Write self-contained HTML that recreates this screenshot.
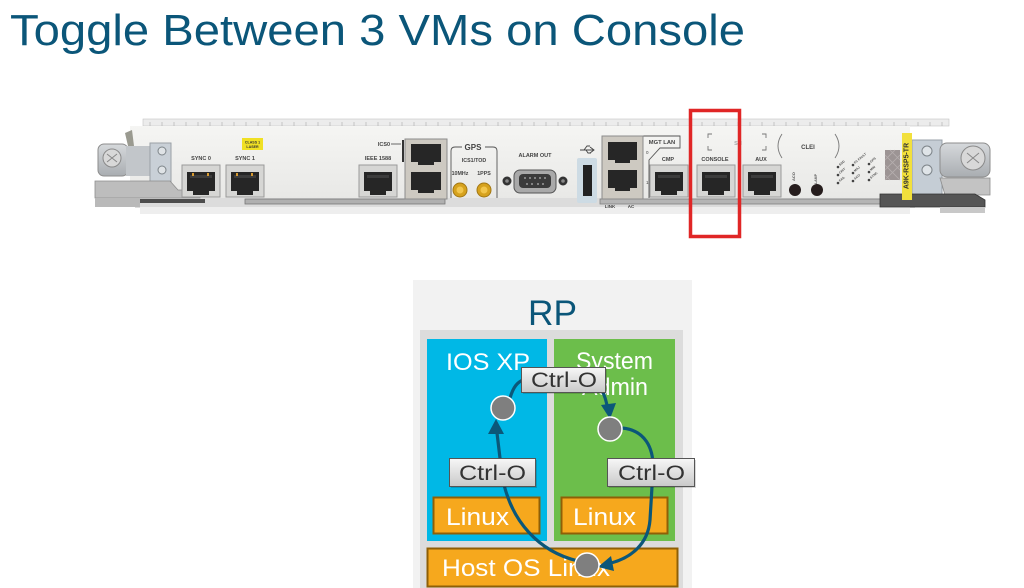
<!DOCTYPE html>
<html><head><meta charset="utf-8"><style>
html,body{margin:0;padding:0;background:#fff;}
svg{display:block;}
text{font-family:"Liberation Sans",sans-serif;}
</style></head><body>
<svg width="1024" height="588" viewBox="0 0 1024 588" xmlns="http://www.w3.org/2000/svg">
<defs>
<linearGradient id="face" x1="0" y1="0" x2="0" y2="1"><stop offset="0" stop-color="#f5f5f3"/><stop offset="1" stop-color="#e8e8e6"/></linearGradient>
<linearGradient id="metal" x1="0" y1="0" x2="0" y2="1"><stop offset="0" stop-color="#d6d9dc"/><stop offset="1" stop-color="#a9adb1"/></linearGradient>
<linearGradient id="btn" x1="0" y1="0" x2="0" y2="1"><stop offset="0" stop-color="#f7f7f7"/><stop offset="1" stop-color="#c9c9c9"/></linearGradient>
<g id="rj">
<rect x="0" y="0" width="38" height="32" fill="#d6d6d4" stroke="#9a9a9a" stroke-width="1"/>
<rect x="5" y="7" width="28" height="19" fill="#262626"/>
<rect x="11" y="24" width="16" height="6" fill="#262626"/>
<rect x="8" y="10" width="22" height="3" fill="#3c3c3c"/>
</g>
</defs>

<!-- Title -->
<text x="10" y="45" font-size="44" fill="#0b5679" textLength="735" lengthAdjust="spacingAndGlyphs">Toggle Between 3 VMs on Console</text>

<!-- ===== Card ===== -->
<!-- top rail -->
<rect x="143" y="119" width="806" height="7" fill="#ececec" stroke="#c4c4c4" stroke-width="0.6"/>
<g stroke="#ababab" stroke-width="0.6">
<path d="M150 122v4M162 122v4M174 122v4M186 122v4M198 122v4M210 122v4M222 122v4M234 122v4M246 122v4M258 122v4M270 122v4M282 122v4M294 122v4M306 122v4M318 122v4M330 122v4M342 122v4M354 122v4M366 122v4M378 122v4M390 122v4M402 122v4M414 122v4M426 122v4M438 122v4M450 122v4M462 122v4M474 122v4M486 122v4M498 122v4M510 122v4M522 122v4M534 122v4M546 122v4M558 122v4M570 122v4M582 122v4M594 122v4M606 122v4M618 122v4M630 122v4M642 122v4M654 122v4M666 122v4M678 122v4M690 122v4M702 122v4M714 122v4M726 122v4M738 122v4M750 122v4M762 122v4M774 122v4M786 122v4M798 122v4M810 122v4M822 122v4M834 122v4M846 122v4M858 122v4M870 122v4M882 122v4M894 122v4M906 122v4M918 122v4M930 122v4M942 122v4"/>
</g>
<!-- faceplate -->
<rect x="130" y="126" width="780" height="74" fill="url(#face)"/>
<!-- bottom rail -->
<rect x="135" y="198" width="780" height="10" fill="#dcdcdc"/>
<rect x="140" y="207" width="770" height="7" fill="#eeeeee"/>
<rect x="140" y="199" width="65" height="4" fill="#4d4d4d"/>
<rect x="245" y="199" width="200" height="5" fill="#b0b0b0" stroke="#777" stroke-width="0.8"/>
<rect x="600" y="199" width="290" height="5" fill="#b5b5b5" stroke="#808080" stroke-width="0.8"/>

<!-- left latch -->
<path d="M125 133 L132 130 L134 146 L128 146 Z" fill="#9a9a90"/>
<rect x="98" y="144" width="30" height="32" rx="6" fill="url(#metal)" stroke="#8d8d8d"/>
<circle cx="112" cy="158" r="9" fill="#d8d8d8" stroke="#8a8a8a"/>
<path d="M107 154 L117 162 M117 154 L107 162" stroke="#888" stroke-width="1"/>
<rect x="126" y="146" width="24" height="30" fill="#c2c6ca"/>
<rect x="150" y="143" width="21" height="53" fill="#c9d0d7" stroke="#9aa0a6"/>
<circle cx="162" cy="151" r="4" fill="#dfe3e6" stroke="#7d8489"/>
<circle cx="162" cy="170" r="4" fill="#dfe3e6" stroke="#7d8489"/>
<path d="M95 181 L170 181 L178 190 L200 190 L200 198 L95 198 Z" fill="#bdbdbd" stroke="#8d8d8d" stroke-width="0.8"/>
<rect x="95" y="198" width="45" height="9" fill="#b9b9b9"/>

<!-- right latch -->
<rect x="912" y="140" width="30" height="55" fill="#c5cdd5" stroke="#98a0a8"/>
<circle cx="927" cy="151" r="5" fill="#dfe4e8" stroke="#7d8489"/>
<circle cx="927" cy="170" r="5" fill="#dfe4e8" stroke="#7d8489"/>
<rect x="940" y="143" width="50" height="34" rx="7" fill="url(#metal)" stroke="#8d8d8d"/>
<circle cx="973" cy="158" r="12" fill="#d8d8d8" stroke="#8a8a8a"/>
<path d="M967 153 L979 163 M979 153 L967 163" stroke="#888" stroke-width="1"/>
<path d="M940 178 L990 178 L990 195 L945 195 Z" fill="#c3c3c3" stroke="#8d8d8d" stroke-width="0.8"/>
<path d="M880 194 L975 194 L985 200 L985 207 L880 207 Z" fill="#555" stroke="#333" stroke-width="0.8"/>
<rect x="940" y="207" width="45" height="6" fill="#c8c8c8"/>

<!-- SYNC ports -->
<rect x="242" y="138" width="21" height="12" fill="#f0e024"/>
<text x="252.5" y="143.5" font-size="3.6" font-weight="bold" text-anchor="middle" fill="#333">CLASS 1</text>
<text x="252.5" y="148" font-size="3.6" font-weight="bold" text-anchor="middle" fill="#333">LASER</text>
<text x="201" y="160" font-size="5.5" font-weight="bold" text-anchor="middle" fill="#444">SYNC 0</text>
<text x="245" y="160" font-size="5.5" font-weight="bold" text-anchor="middle" fill="#444">SYNC 1</text>
<use href="#rj" x="182" y="165"/>
<use href="#rj" x="226" y="165"/>
<rect x="192" y="173" width="2" height="3" fill="#d79a30"/><rect x="207" y="173" width="2" height="3" fill="#d79a30"/>
<rect x="236" y="173" width="2" height="3" fill="#d79a30"/><rect x="251" y="173" width="2" height="3" fill="#d79a30"/>

<!-- IEEE 1588 -->
<text x="378" y="160" font-size="5.5" font-weight="bold" text-anchor="middle" fill="#444">IEEE 1588</text>
<use href="#rj" x="359" y="165"/>
<!-- ICS block -->
<text x="384" y="146" font-size="5.5" font-weight="bold" text-anchor="middle" fill="#444">ICS0</text>
<path d="M391 144 L401 144" stroke="#444" stroke-width="0.8"/>
<rect x="402" y="140" width="2" height="22" fill="#333"/>
<rect x="405" y="139" width="42" height="60" fill="#cdc9c1" stroke="#8c8c8c"/>
<rect x="411" y="144" width="30" height="18" fill="#262626"/>
<rect x="411" y="172" width="30" height="18" fill="#262626"/>
<rect x="418" y="161" width="16" height="4" fill="#262626"/>
<rect x="418" y="189" width="16" height="4" fill="#262626"/>
<!-- GPS -->
<path d="M451 198 L451 151 Q451 147 455 147 L462 147 M485 147 L493 147 Q497 147 497 151 L497 198" fill="none" stroke="#555" stroke-width="0.9"/>
<text x="473" y="150" font-size="8" font-weight="bold" text-anchor="middle" fill="#444">GPS</text>
<text x="474" y="162" font-size="5.3" font-weight="bold" text-anchor="middle" fill="#444">ICS1/TOD</text>
<text x="460" y="175" font-size="5.3" font-weight="bold" text-anchor="middle" fill="#444">10MHz</text>
<text x="484" y="175" font-size="5.3" font-weight="bold" text-anchor="middle" fill="#444">1PPS</text>
<circle cx="460" cy="190" r="7" fill="#d6a21e" stroke="#a27714"/>
<circle cx="460" cy="190" r="3.5" fill="#f2c64c"/>
<circle cx="484" cy="190" r="7" fill="#d6a21e" stroke="#a27714"/>
<circle cx="484" cy="190" r="3.5" fill="#f2c64c"/>
<!-- ALARM OUT -->
<text x="535" y="157" font-size="5.5" font-weight="bold" text-anchor="middle" fill="#444">ALARM OUT</text>
<circle cx="507" cy="181" r="4.5" fill="#333"/><circle cx="507" cy="181" r="1.8" fill="#888"/>
<circle cx="563" cy="181" r="4.5" fill="#333"/><circle cx="563" cy="181" r="1.8" fill="#888"/>
<rect x="514" y="170" width="42" height="23" rx="6" fill="#a9a9a9" stroke="#555"/>
<rect x="519" y="174" width="32" height="14" rx="4" fill="#3a3a3a"/>
<g fill="#999"><circle cx="525" cy="178" r="1"/><circle cx="530" cy="178" r="1"/><circle cx="535" cy="178" r="1"/><circle cx="540" cy="178" r="1"/><circle cx="545" cy="178" r="1"/><circle cx="527" cy="184" r="1"/><circle cx="532" cy="184" r="1"/><circle cx="538" cy="184" r="1"/><circle cx="543" cy="184" r="1"/></g>
<!-- USB -->
<path d="M580 150 L594 150 M590 147 L594 150 L590 153 M584 150 L587 146 L590 146 M586 150 L588 153 L591 153" fill="none" stroke="#444" stroke-width="0.9"/>
<rect x="577" y="158" width="20" height="45" rx="2" fill="#cddbe4"/>
<rect x="583" y="165" width="9" height="31" fill="#222"/>
<!-- MGT LAN -->
<path d="M602 136 L680 136 L680 148 L660 148 L649 160 L649 198" fill="none" stroke="#555" stroke-width="0.9"/>
<text x="662" y="144" font-size="5.8" font-weight="bold" text-anchor="middle" fill="#444">MGT LAN</text>
<rect x="602" y="136" width="41" height="63" fill="#cdc9c1" stroke="#8c8c8c"/>
<rect x="608" y="142" width="29" height="18" fill="#262626"/>
<rect x="608" y="170" width="29" height="18" fill="#262626"/>
<rect x="615" y="159" width="15" height="4" fill="#262626"/>
<rect x="615" y="187" width="15" height="4" fill="#262626"/>
<text x="646" y="154" font-size="4.5" fill="#444">0</text>
<text x="646" y="184" font-size="4.5" fill="#444">1</text>
<text x="610" y="208" font-size="4.5" font-weight="bold" text-anchor="middle" fill="#444">LINK</text>
<text x="631" y="208" font-size="4.5" font-weight="bold" text-anchor="middle" fill="#444">AC</text>
<!-- CMP / CONSOLE / AUX -->
<text x="668" y="161" font-size="5.5" font-weight="bold" text-anchor="middle" fill="#444">CMP</text>
<use href="#rj" x="650" y="165"/>
<text x="715" y="161" font-size="5.5" font-weight="bold" text-anchor="middle" fill="#444">CONSOLE</text>
<use href="#rj" x="697" y="165"/>
<text x="761" y="161" font-size="5.5" font-weight="bold" text-anchor="middle" fill="#444">AUX</text>
<use href="#rj" x="743" y="165"/>
<!-- SN -->
<path d="M708 138 L708 134 L712 134 M762 134 L766 134 L766 138 M708 146 L708 150 L712 150 M762 150 L766 150 L766 146" fill="none" stroke="#777" stroke-width="0.9"/>
<text x="738" y="145" font-size="5.5" font-weight="bold" text-anchor="middle" fill="#aaa">SN</text>
<!-- CLEI -->
<path d="M782 134 Q774 146 782 158 M835 134 Q843 146 835 158" fill="none" stroke="#777" stroke-width="0.9"/>
<text x="808" y="149" font-size="6" font-weight="bold" text-anchor="middle" fill="#444">CLEI</text>
<text x="795" y="181" font-size="4" font-weight="bold" fill="#555" transform="rotate(-90 795 181)">ACO</text>
<text x="817" y="184" font-size="3.5" font-weight="bold" fill="#555" transform="rotate(-90 817 184)">LAMP</text>
<circle cx="795" cy="190" r="6" fill="#261d1d"/>
<circle cx="817" cy="190" r="6" fill="#261d1d"/>
<!-- LEDs -->
<g fill="#444">
<circle cx="838" cy="167" r="1.3"/><circle cx="838" cy="175" r="1.3"/><circle cx="838" cy="183" r="1.3"/>
<circle cx="853" cy="165" r="1.3"/><circle cx="853" cy="173" r="1.3"/><circle cx="853" cy="181" r="1.3"/>
<circle cx="869" cy="164" r="1.3"/><circle cx="869" cy="172" r="1.3"/><circle cx="869" cy="180" r="1.3"/>
</g>
<g font-size="3.2" font-weight="bold" fill="#555">
<text x="840" y="166" transform="rotate(-40 840 166)">SSD</text>
<text x="840" y="174" transform="rotate(-40 840 174)">CRIT</text>
<text x="840" y="182" transform="rotate(-40 840 182)">FAIL</text>
<text x="855" y="164" transform="rotate(-40 855 164)">FC FAULT</text>
<text x="855" y="172" transform="rotate(-40 855 172)">MAJ</text>
<text x="855" y="180" transform="rotate(-40 855 180)">ACO</text>
<text x="871" y="163" transform="rotate(-40 871 163)">GPS</text>
<text x="871" y="171" transform="rotate(-40 871 171)">MIN</text>
<text x="871" y="179" transform="rotate(-40 871 179)">SYNC</text>
</g>
<rect x="885" y="150" width="15" height="30" fill="#9c9494"/>
<path d="M885 155 L900 170 M885 165 L900 180 M885 175 L890 180 M890 150 L900 160 M885 170 L900 155 M885 180 L900 165 M885 160 L895 150" stroke="#b5aeae" stroke-width="0.8"/>
<rect x="902" y="133" width="10" height="67" fill="#f2e03c"/>
<text x="907" y="166" font-size="7" font-weight="bold" fill="#333" text-anchor="middle" dominant-baseline="central" transform="rotate(-90 907 166)">A9K-RSP5-TR</text>

<!-- red highlight -->
<rect x="690.5" y="110.5" width="49" height="126" fill="none" stroke="#e02626" stroke-width="3.5"/>

<!-- ===== RP diagram ===== -->
<rect x="413" y="280" width="279" height="308" fill="#f2f2f2"/>
<rect x="420" y="330" width="263" height="258" fill="#dcdcdc"/>
<text x="552.5" y="325" font-size="35" text-anchor="middle" fill="#0b5679" textLength="49" lengthAdjust="spacingAndGlyphs">RP</text>
<rect x="427" y="339" width="120" height="202" fill="#00b8e6"/>
<rect x="554" y="339" width="121" height="202" fill="#6cbe4b"/>
<text x="446" y="370" font-size="24" fill="#fff" textLength="84" lengthAdjust="spacingAndGlyphs">IOS XP</text>
<text x="576" y="369" font-size="24" fill="#fff" textLength="77" lengthAdjust="spacingAndGlyphs">System</text>
<text x="582" y="395" font-size="24" fill="#fff" textLength="66" lengthAdjust="spacingAndGlyphs">Admin</text>
<rect x="433.5" y="497.5" width="106" height="36" fill="#f6a81d" stroke="#8f5f06" stroke-width="2"/>
<rect x="561.5" y="497.5" width="106" height="36" fill="#f6a81d" stroke="#8f5f06" stroke-width="2"/>
<text x="446" y="525" font-size="24" fill="#fff" textLength="63" lengthAdjust="spacingAndGlyphs">Linux</text>
<text x="573" y="525" font-size="24" fill="#fff" textLength="63" lengthAdjust="spacingAndGlyphs">Linux</text>
<rect x="427.5" y="548.5" width="250" height="38" fill="#f6a81d" stroke="#8f5f06" stroke-width="2"/>
<text x="442" y="576" font-size="24" fill="#fff" textLength="168" lengthAdjust="spacingAndGlyphs">Host OS Linux</text>

<!-- arrows -->
<g fill="none" stroke="#0b5779" stroke-width="3.2" stroke-linecap="round">
<path d="M510 398 C513 388 517 381 526 379 L596 381 C602 388 605 396 607 405"/>
<path d="M622 428 C645 430 654 448 653 470 L650 520 C648 545 630 558 611 563"/>
<path d="M578 561 C540 552 510 522 502 475 L497 433"/>
</g>
<g fill="#0b5779">
<polygon points="610,419 601,405 616,403"/>
<polygon points="598,567 611,556 614,571"/>
<polygon points="496,419 488,434 504,434"/>
</g>

<!-- Ctrl-O boxes -->
<g fill="#000" opacity="0.15">
<rect x="523" y="369" width="84" height="25"/>
<rect x="451" y="460" width="86" height="28"/>
<rect x="609" y="460" width="87" height="28"/>
</g>
<g stroke="#555" stroke-width="1">
<rect x="521.5" y="367.5" width="84" height="25" fill="url(#btn)"/>
<rect x="449.5" y="458.5" width="86" height="28" fill="url(#btn)"/>
<rect x="607.5" y="458.5" width="87" height="28" fill="url(#btn)"/>
</g>
<text x="531" y="387" font-size="21" fill="#333" textLength="66" lengthAdjust="spacingAndGlyphs">Ctrl-O</text>
<text x="459" y="480" font-size="21" fill="#333" textLength="67" lengthAdjust="spacingAndGlyphs">Ctrl-O</text>
<text x="618" y="480" font-size="21" fill="#333" textLength="67" lengthAdjust="spacingAndGlyphs">Ctrl-O</text>

<!-- circles -->
<g fill="#7f7f7f" stroke="#fff" stroke-width="1.5">
<circle cx="503" cy="408" r="12"/>
<circle cx="610" cy="429" r="12"/>
<circle cx="587" cy="565" r="12"/>
</g>
</svg>
</body></html>
